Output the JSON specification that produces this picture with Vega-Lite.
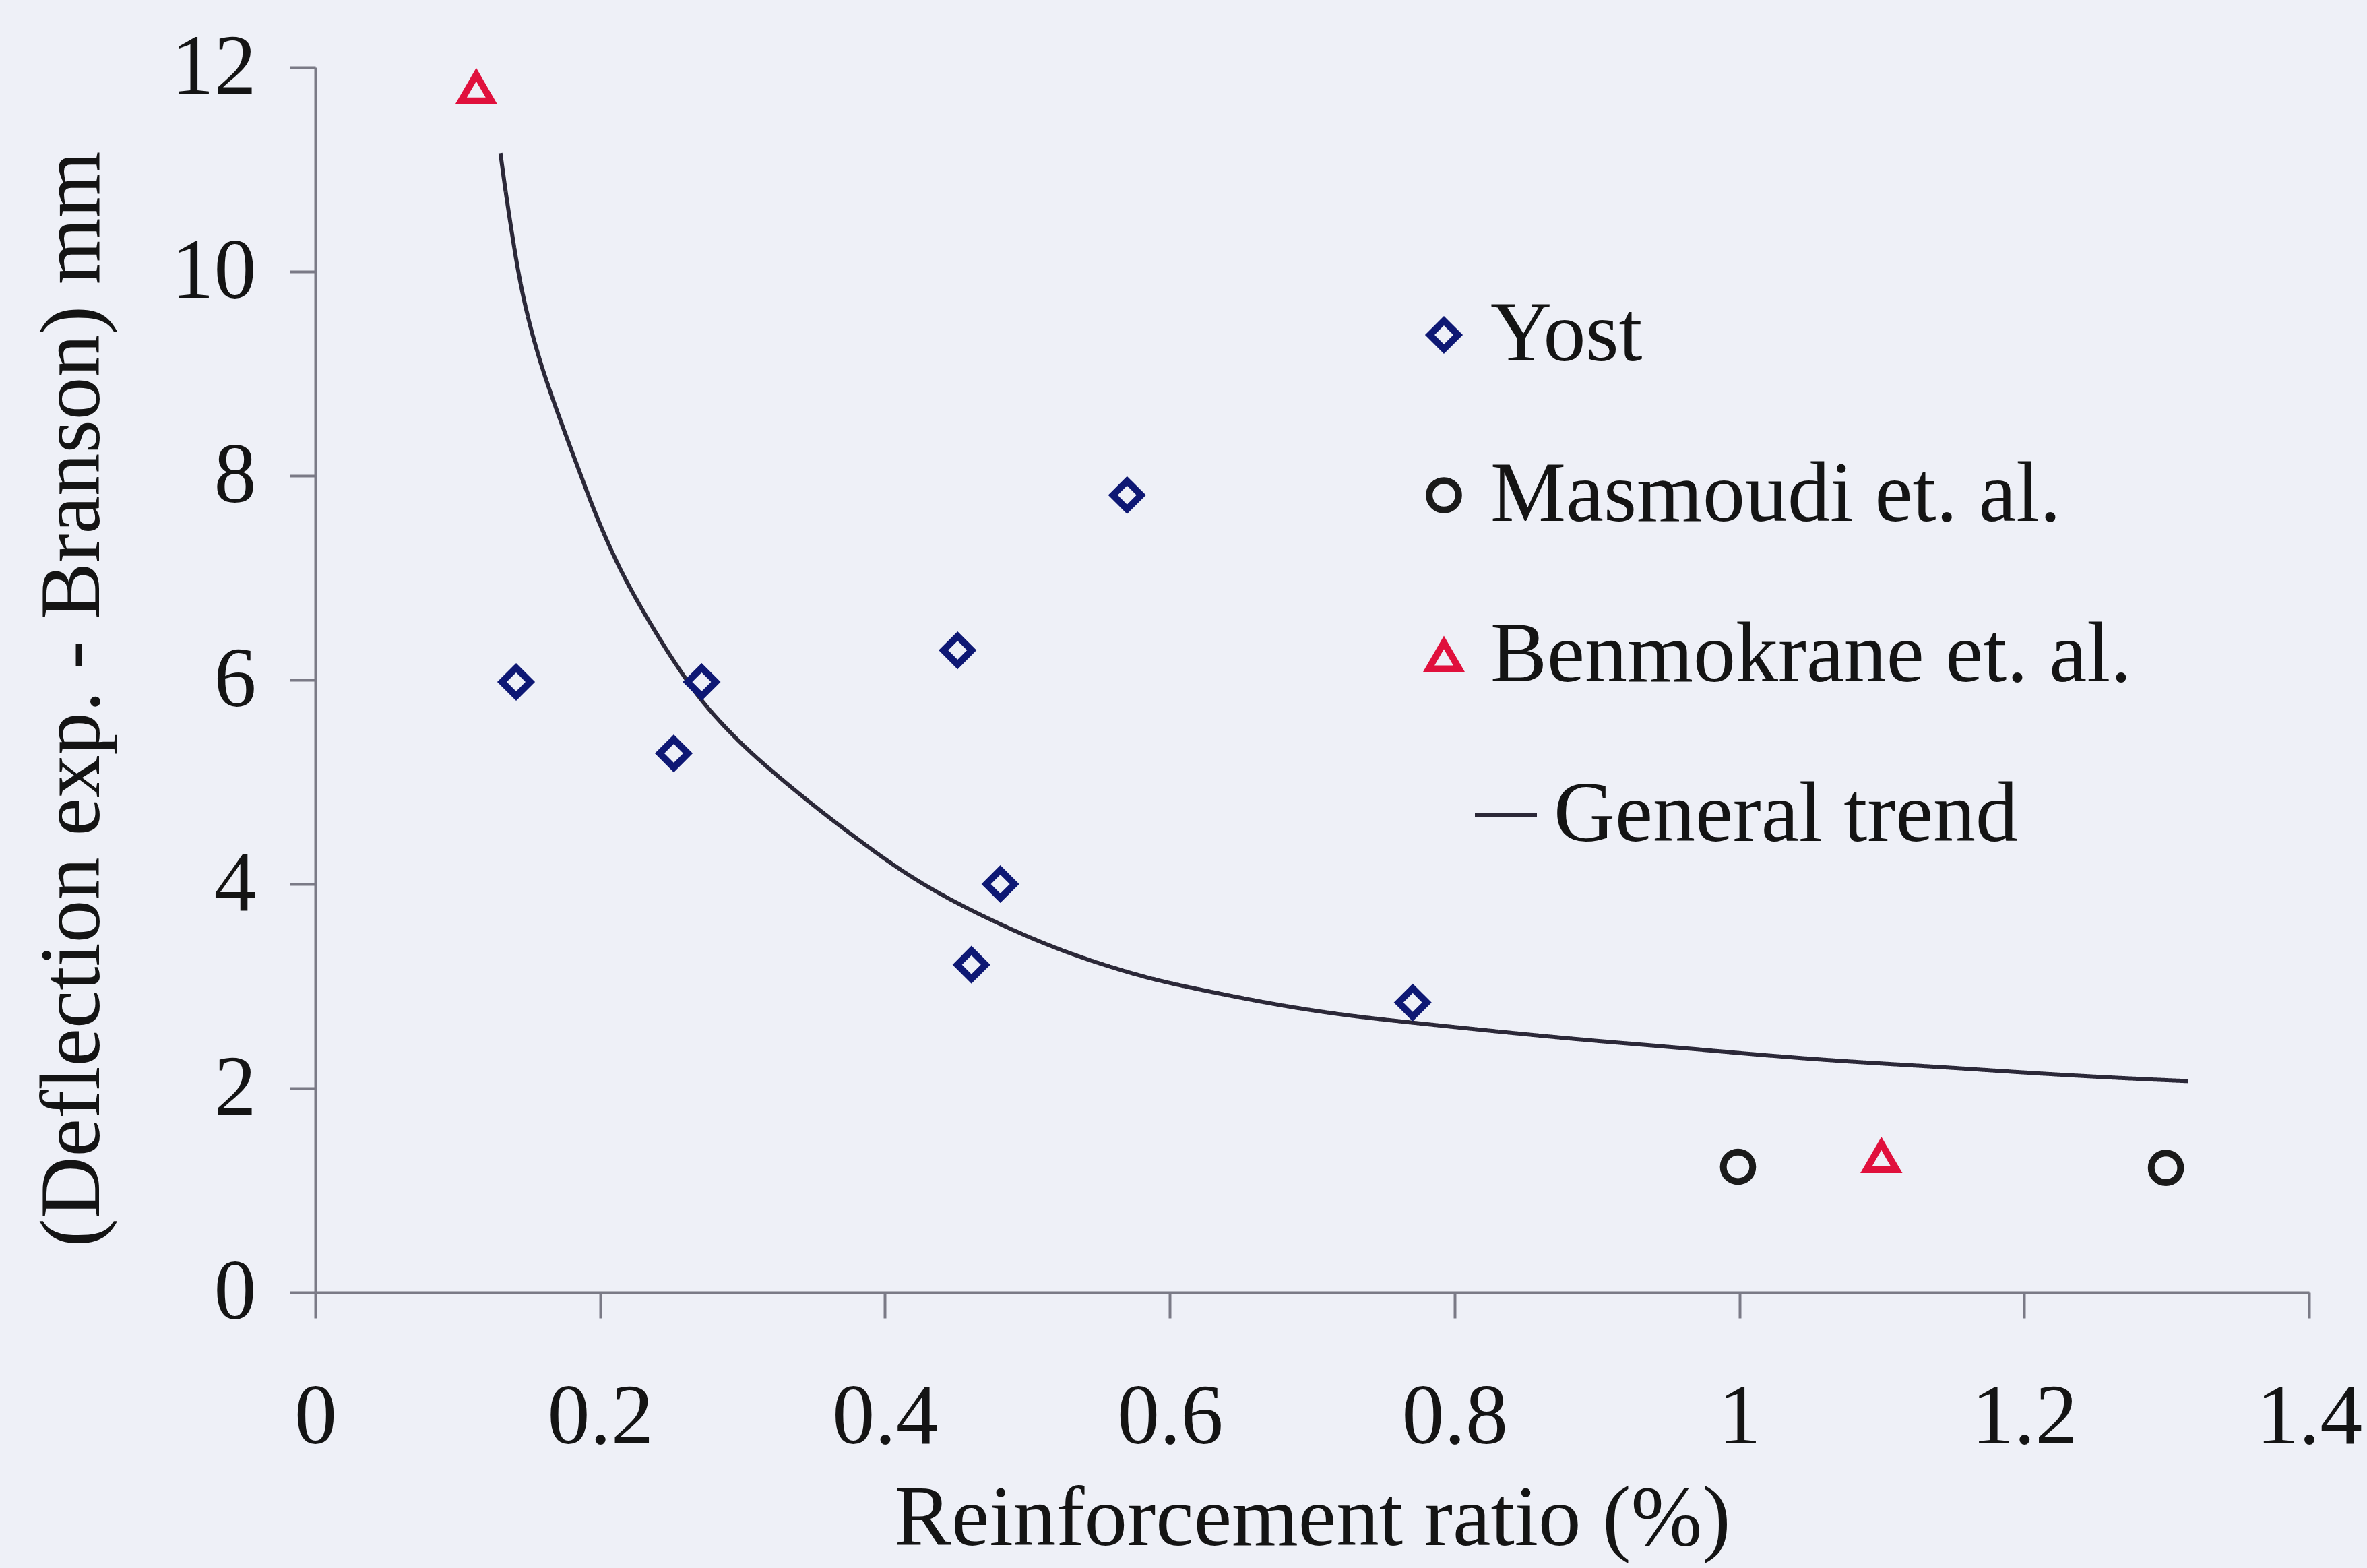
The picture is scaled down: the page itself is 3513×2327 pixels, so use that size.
{
  "$schema": "https://vega.github.io/schema/vega-lite/v6.json",
  "width": 2959,
  "height": 1818,
  "autosize": {"type": "none"},
  "padding": {"left": 468, "top": 100, "right": 86, "bottom": 409},
  "background": "#eef0f7",
  "config": {
    "view": {"stroke": null},
    "axis": {
      "grid": false,
      "domainColor": "#7a7a86",
      "domainWidth": 4,
      "tickColor": "#7a7a86",
      "tickWidth": 4,
      "tickSize": 38,
      "labelFont": "Liberation Serif",
      "labelFontSize": 126,
      "labelColor": "#141414",
      "labelFlush": false,
      "labelOverlap": false,
      "titleFont": "Liberation Serif",
      "titleFontSize": 127,
      "titleFontWeight": "normal",
      "titleColor": "#141414"
    },
    "legend": {
      "labelFont": "Liberation Serif",
      "labelFontSize": 126,
      "labelColor": "#141414",
      "labelLimit": 2000,
      "padding": 0,
      "title": null
    }
  },
  "datasets": {
    "observed": [
      {"ratio": 0.141, "deflection": 5.98, "series": "Yost"},
      {"ratio": 0.2517, "deflection": 5.28, "series": "Yost"},
      {"ratio": 0.2713, "deflection": 5.98, "series": "Yost"},
      {"ratio": 0.451, "deflection": 6.29, "series": "Yost"},
      {"ratio": 0.4607, "deflection": 3.21, "series": "Yost"},
      {"ratio": 0.481, "deflection": 4.0, "series": "Yost"},
      {"ratio": 0.57, "deflection": 7.81, "series": "Yost"},
      {"ratio": 0.7706, "deflection": 2.84, "series": "Yost"},
      {"ratio": 0.999, "deflection": 1.23, "series": "Masmoudi et. al."},
      {"ratio": 1.2995, "deflection": 1.22, "series": "Masmoudi et. al."},
      {"ratio": 0.113, "deflection": 11.8, "series": "Benmokrane et. al."},
      {"ratio": 1.0997, "deflection": 1.33, "series": "Benmokrane et. al."}
    ],
    "trend": [
      {"ratio": 0.13, "deflection": 11.16, "curve": "General trend"},
      {"ratio": 0.1334, "deflection": 10.8, "curve": "General trend"},
      {"ratio": 0.138, "deflection": 10.38, "curve": "General trend"},
      {"ratio": 0.142, "deflection": 10.03, "curve": "General trend"},
      {"ratio": 0.147, "deflection": 9.68, "curve": "General trend"},
      {"ratio": 0.153, "deflection": 9.35, "curve": "General trend"},
      {"ratio": 0.16, "deflection": 9.02, "curve": "General trend"},
      {"ratio": 0.169, "deflection": 8.66, "curve": "General trend"},
      {"ratio": 0.179, "deflection": 8.28, "curve": "General trend"},
      {"ratio": 0.189, "deflection": 7.91, "curve": "General trend"},
      {"ratio": 0.1965, "deflection": 7.63, "curve": "General trend"},
      {"ratio": 0.212, "deflection": 7.13, "curve": "General trend"},
      {"ratio": 0.228, "deflection": 6.72, "curve": "General trend"},
      {"ratio": 0.247, "deflection": 6.28, "curve": "General trend"},
      {"ratio": 0.263, "deflection": 5.95, "curve": "General trend"},
      {"ratio": 0.2754, "deflection": 5.72, "curve": "General trend"},
      {"ratio": 0.299, "deflection": 5.37, "curve": "General trend"},
      {"ratio": 0.3227, "deflection": 5.08, "curve": "General trend"},
      {"ratio": 0.3463, "deflection": 4.81, "curve": "General trend"},
      {"ratio": 0.3637, "deflection": 4.62, "curve": "General trend"},
      {"ratio": 0.378, "deflection": 4.47, "curve": "General trend"},
      {"ratio": 0.409, "deflection": 4.15, "curve": "General trend"},
      {"ratio": 0.441, "deflection": 3.88, "curve": "General trend"},
      {"ratio": 0.4725, "deflection": 3.66, "curve": "General trend"},
      {"ratio": 0.504, "deflection": 3.46, "curve": "General trend"},
      {"ratio": 0.5356, "deflection": 3.29, "curve": "General trend"},
      {"ratio": 0.567, "deflection": 3.15, "curve": "General trend"},
      {"ratio": 0.593, "deflection": 3.05, "curve": "General trend"},
      {"ratio": 0.63, "deflection": 2.94, "curve": "General trend"},
      {"ratio": 0.6775, "deflection": 2.81, "curve": "General trend"},
      {"ratio": 0.725, "deflection": 2.71, "curve": "General trend"},
      {"ratio": 0.772, "deflection": 2.64, "curve": "General trend"},
      {"ratio": 0.83, "deflection": 2.555, "curve": "General trend"},
      {"ratio": 0.893, "deflection": 2.47, "curve": "General trend"},
      {"ratio": 0.956, "deflection": 2.4, "curve": "General trend"},
      {"ratio": 1.019, "deflection": 2.32, "curve": "General trend"},
      {"ratio": 1.077, "deflection": 2.26, "curve": "General trend"},
      {"ratio": 1.14, "deflection": 2.21, "curve": "General trend"},
      {"ratio": 1.203, "deflection": 2.15, "curve": "General trend"},
      {"ratio": 1.266, "deflection": 2.1, "curve": "General trend"},
      {"ratio": 1.315, "deflection": 2.07, "curve": "General trend"}
    ]
  },
  "encoding": {
    "x": {
      "field": "ratio",
      "type": "quantitative",
      "scale": {"domain": [0, 1.4], "nice": false, "zero": false},
      "axis": {
        "title": "Reinforcement ratio (%)",
        "values": [0, 0.2, 0.4, 0.6, 0.8, 1, 1.2, 1.4],
        "format": "~g",
        "labelPadding": 85,
        "titlePadding": 74
      }
    },
    "y": {
      "field": "deflection",
      "type": "quantitative",
      "scale": {"domain": [0, 12], "nice": false},
      "axis": {
        "title": "(Deflection exp. - Branson) mm",
        "values": [0, 2, 4, 6, 8, 10, 12],
        "format": "d",
        "labelPadding": 50,
        "titlePadding": 95,
        "titleY": 937
      }
    }
  },
  "layer": [
    {
      "data": {"name": "trend"},
      "mark": {"type": "line", "interpolate": "basis", "color": "#2b2838", "strokeWidth": 6},
      "encoding": {
        "strokeDash": {
          "field": "curve",
          "type": "nominal",
          "scale": {"domain": ["General trend"], "range": [[1, 0]]},
          "legend": {
            "orient": "none",
            "legendX": 1704,
            "legendY": 1047,
            "symbolType": "stroke",
            "symbolSize": 8464,
            "symbolStrokeWidth": 6,
            "symbolStrokeColor": "#2b2838",
            "labelOffset": 8
          }
        }
      }
    },
    {
      "data": {"name": "observed"},
      "mark": {"type": "point", "filled": false, "strokeWidth": 10, "opacity": 1},
      "encoding": {
        "shape": {
          "field": "series",
          "type": "nominal",
          "scale": {"domain": ["Yost", "Masmoudi et. al.", "Benmokrane et. al."], "range": ["diamond", "circle", "triangle-up"]},
          "legend": {"orient": "none", "legendX": 1612, "legendY": 334, "rowPadding": 112, "symbolStrokeWidth": 10, "labelOffset": 6}
        },
        "color": {
          "field": "series",
          "type": "nominal",
          "scale": {"domain": ["Yost", "Masmoudi et. al.", "Benmokrane et. al."], "range": ["#0e1874", "#1a1a1a", "#e0103c"]},
          "legend": {"orient": "none", "legendX": 1612, "legendY": 334, "rowPadding": 112, "symbolStrokeWidth": 10, "labelOffset": 6}
        },
        "size": {
          "field": "series",
          "type": "nominal",
          "scale": {"domain": ["Yost", "Masmoudi et. al.", "Benmokrane et. al."], "range": [1764, 2043, 2500]},
          "legend": {"orient": "none", "legendX": 1612, "legendY": 334, "rowPadding": 112, "symbolStrokeWidth": 10, "labelOffset": 6}
        }
      }
    }
  ]
}
